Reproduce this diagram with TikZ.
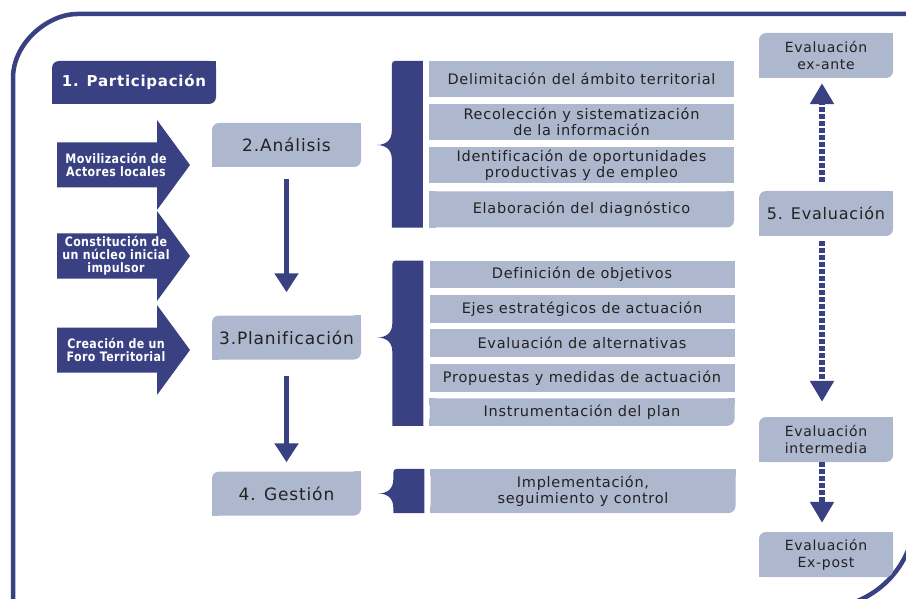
\documentclass[tikz,border=0pt]{standalone}
\usepackage{fontspec}
\setmainfont{DejaVu Sans}[LetterSpace=5,Ligatures=NoCommon]
\newfontfamily\arrowfont{DejaVu Sans}[FakeStretch=0.85,LetterSpace=3,Ligatures=NoCommon]
\usetikzlibrary{arrows.meta,calc}

\definecolor{navy}{RGB}{57,65,131}
\definecolor{boxgrey}{RGB}{173,183,206}
\definecolor{textgrey}{RGB}{34,34,34}

% dark bar with a pointer towards the step box
\newcommand{\bracebar}[3]{%
    \fill[navy] let \p1=([xshift=-6pt]#1.north west), \p2=([xshift=-6pt]#2.south west), \p3=(#3.east) in
        (\x1,\y1) -- (\x1,\y2) -- (\x1-31pt,\y2) -- (\x1-31pt,\y3-14pt)
        .. controls (\x1-31pt,\y3-4pt) and (\x1-38pt,\y3) .. (\x1-46pt,\y3)
        .. controls (\x1-38pt,\y3) and (\x1-31pt,\y3+4pt) .. (\x1-31pt,\y3+14pt)
        -- (\x1-31pt,\y1-8pt) .. controls (\x1-31pt,\y1) .. (\x1-23pt,\y1) -- cycle;}

\begin{document}
\begin{tikzpicture}[x=1pt, y=-1pt,
     %Specs
     headbox/.style={fill=navy, text=white, rounded corners=7pt, inner sep=0pt,
        minimum width=164pt, minimum height=43pt, font=\bfseries\fontsize{15}{17}\selectfont},
     stepbox/.style={fill=boxgrey, text=textgrey, rounded corners=7pt, inner sep=0pt,
        minimum width=149pt, minimum height=44pt, font=\fontsize{17}{19}\selectfont},
     itembox/.style={fill=boxgrey, text=textgrey, inner sep=0pt, align=center,
        minimum width=305pt, font=\fontsize{14.5}{16}\selectfont},
     lastitem/.style={itembox, rounded corners=7pt},
     evalbox/.style={fill=boxgrey, text=textgrey, rounded corners=7pt, inner sep=0pt, align=center,
        minimum width=134pt, minimum height=45pt, font=\fontsize{14}{17}\selectfont},
     arrowtext/.style={text=white, align=center, inner sep=0pt,
        font=\arrowfont\bfseries\fontsize{13}{13}\selectfont},
     flowarrow/.style={navy, line width=5pt, -{Triangle[width=23pt,length=19pt]}},
     evalarrow/.style={navy, line width=6pt, dash pattern=on 5pt off 2pt,
        -{Triangle[width=23pt,length=21pt]}}
     ]
    \useasboundingbox (0,0) rectangle (906,599);

    %frame
    \draw[navy, line width=4.5pt] (13,608) -- (13,78) .. controls (13,42.7) and (48.3,14) .. (77,14)
        -- (915,14) -- (915,515) .. controls (915,566.3) and (873.3,608) .. (822,608) -- cycle;

    %block arrows
    \foreach \c in {165,256,350}
        \fill[navy] (57,\c-22.5) -- (157,\c-22.5) -- (157,\c-45) -- (190,\c)
            -- (157,\c+45) -- (157,\c+22.5) -- (57,\c+22.5) -- cycle;

    %labels
    \node[headbox] (part) at (134,82.5) {1. Participación};
    \node[arrowtext] (mov) at (116,165) {Movilización de\\Actores locales};
    \node[arrowtext] (nucleo) at (116,256) {Constitución de\\un núcleo inicial\\impulsor};
    \node[arrowtext] (foro) at (116,350) {Creación de un\\Foro Territorial};

    \node[stepbox] (analisis) at (286.5,145) {2.Análisis};
    \node[stepbox] (planif) at (286.5,337.5) {3.Planificación};
    \node[stepbox] (gestion) at (286.5,493.5) {4. Gestión};

    % analisis
    \node[itembox, minimum height=36pt] (d1) at (581.5,79) {Delimitación del ámbito territorial};
    \node[itembox, minimum height=36pt] (d2) at (581.5,122) {Recolección y sistematización\\de la información};
    \node[itembox, minimum height=36pt] (d3) at (581.5,165.5) {Identificación de oportunidades\\productivas y de empleo};
    \node[lastitem, minimum height=36pt] (d4) at (581.5,209.5) {Elaboración del diagnóstico};

    % planificacion
    \node[itembox, minimum height=27.5pt] (p1) at (582,274.5) {Definición de objetivos};
    \node[itembox, minimum height=27.5pt] (p2) at (582,309) {Ejes estratégicos de actuación};
    \node[itembox, minimum height=27.5pt] (p3) at (582,343) {Evaluación de alternativas};
    \node[itembox, minimum height=27.5pt] (p4) at (582,378) {Propuestas y medidas de actuación};
    \node[lastitem, minimum height=27.5pt] (p5) at (582,412) {Instrumentación del plan};

    % gestion
    \node[lastitem, minimum height=44pt] (g1) at (583,491) {Implementación,\\seguimiento y control};

    % evaluacion
    \node[evalbox] (exante) at (826,55.5) {Evaluación\\ex-ante};
    \node[evalbox, font=\fontsize{16}{18}\selectfont] (evaluacion) at (826,213.5) {5. Evaluación};
    \node[evalbox] (intermedia) at (826,439.5) {Evaluación\\intermedia};
    \node[evalbox] (expost) at (826,554.5) {Evaluación\\Ex-post};

    %square corners
    \foreach \n/\c in {part/navy,analisis/boxgrey,planif/boxgrey,gestion/boxgrey,
                       exante/boxgrey,evaluacion/boxgrey,intermedia/boxgrey,expost/boxgrey}{
        \fill[\c] (\n.north east) rectangle ([xshift=-7pt,yshift=-7pt]\n.north east);
        \fill[\c] (\n.south west) rectangle ([xshift=7pt,yshift=7pt]\n.south west);
    }
    \foreach \n in {d4,p5,g1}{
        \fill[boxgrey] (\n.north west) rectangle ([xshift=7pt,yshift=-7pt]\n.north west);
        \fill[boxgrey] (\n.north east) rectangle ([xshift=-7pt,yshift=-7pt]\n.north east);
        \fill[boxgrey] (\n.south west) rectangle ([xshift=7pt,yshift=7pt]\n.south west);
    }

    %brackets
    \bracebar{d1}{d4}{analisis}
    \bracebar{p1}{p5}{planif}
    \bracebar{g1}{g1}{gestion}

    %arrows
    \draw[flowarrow, shorten <=12pt, shorten >=23pt] (analisis) -- (planif);
    \draw[flowarrow, shorten <=16pt, shorten >=9pt] (planif) -- (gestion);
    \draw[evalarrow, shorten <=9pt, shorten >=5pt] ([xshift=-4pt]evaluacion.north) -- ([xshift=-4pt]exante.south);
    \draw[evalarrow, shorten <=5pt, shorten >=15pt] ([xshift=-4pt]evaluacion.south) -- ([xshift=-4pt]intermedia.north);
    \draw[evalarrow, shorten >=9pt] ([xshift=-4pt]intermedia.south) -- ([xshift=-4pt]expost.north);
\end{tikzpicture}
\end{document}
